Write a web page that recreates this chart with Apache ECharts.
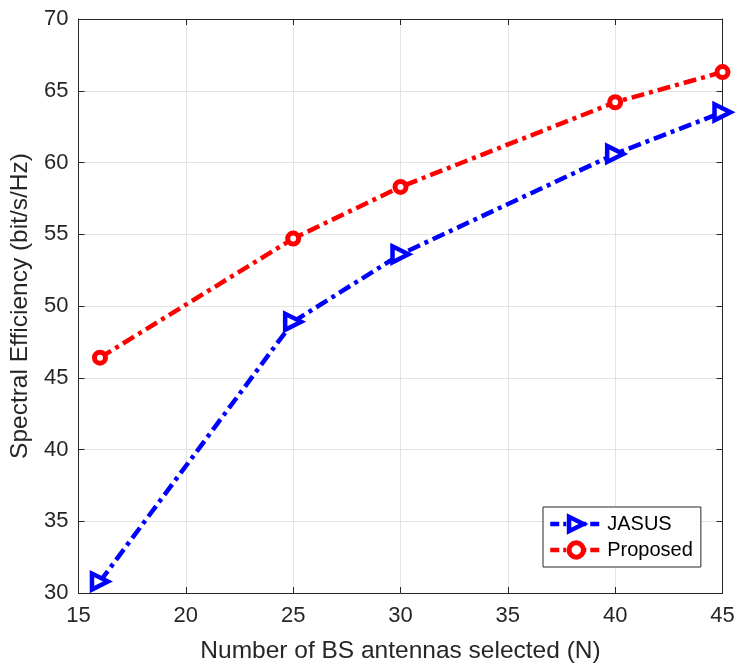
<!DOCTYPE html>
<html>
<head>
<meta charset="utf-8">
<script src="https://cdn.jsdelivr.net/npm/echarts@6/dist/echarts.min.js"></script>
<style>
  html, body { margin: 0; padding: 0; background: #fff; }
  #chart { width: 740px; height: 671px; }
</style>
</head>
<body>
<div id="chart"></div>
<script>
// Number of selected BS antennas
const antennas = [16, 25, 30, 40, 45];
// Spectral efficiency (bit/s/Hz)
const jasus = [30.8, 48.9, 53.6, 60.6, 63.5];
const proposed = [46.4, 54.7, 58.3, 64.2, 66.3];

const xTicks = { min: 15, max: 45, interval: 5 };
const yTicks = { min: 30, max: 70, interval: 5 };

const FONT = '"Liberation Sans", Arial, sans-serif';
const AXIS_COLOR = '#262626';
const dashDot = [13, 5, 4, 5];

const chart = echarts.init(document.getElementById('chart'), null, { renderer: 'canvas' });

const pairs = (xs, ys) => xs.map((x, i) => [x, ys[i]]);

const baseAxis = {
  axisLine: { show: true, onZero: false, lineStyle: { color: AXIS_COLOR, width: 1 } },
  axisTick: { show: true, inside: true, length: 6, lineStyle: { color: AXIS_COLOR } },
  axisLabel: { color: AXIS_COLOR, fontFamily: FONT, fontSize: 22 },
  splitLine: { show: true, lineStyle: { color: '#e3e3e3', width: 1 } }
};

chart.setOption({
  animation: false,
  backgroundColor: '#fff',
  grid: { left: 78.5, right: 17.5, top: 19, bottom: 78, containLabel: false },
  legend: {
    orient: 'vertical',
    left: 543,
    top: 507,
    padding: [7, 8, 7, 5],
    itemGap: 6,
    itemWidth: 52,
    itemHeight: 18,
    backgroundColor: '#fff',
    borderColor: AXIS_COLOR,
    borderWidth: 1,
    borderRadius: 0,
    textStyle: { color: '#000', fontFamily: FONT, fontSize: 20, padding: [0, 0, 0, 0] },
    data: [
      {
        name: 'JASUS',
        lineStyle: { color: '#0000ff', width: 4.5, type: [9, 4, 3, 4] },
        itemStyle: { color: '#fff', borderColor: '#0000ff', borderWidth: 4.5 }
      },
      {
        name: 'Proposed',
        lineStyle: { color: '#ff0000', width: 4.5, type: [9, 4, 3, 4] },
        itemStyle: { color: '#fff', borderColor: '#ff0000', borderWidth: 5 }
      }
    ]
  },
  xAxis: [
    Object.assign({}, baseAxis, {
      type: 'value', position: 'bottom',
      min: xTicks.min, max: xTicks.max, interval: xTicks.interval,
      name: 'Number of BS antennas selected (N)',
      nameLocation: 'middle', nameGap: 46,
      nameTextStyle: { color: AXIS_COLOR, fontFamily: FONT, fontSize: 24.5 },
      axisLabel: Object.assign({}, baseAxis.axisLabel, { margin: 12 })
    }),
    {
      type: 'value', position: 'top',
      min: xTicks.min, max: xTicks.max, interval: xTicks.interval,
      axisLine: baseAxis.axisLine, axisTick: baseAxis.axisTick,
      axisLabel: { show: false }, splitLine: { show: false }
    }
  ],
  yAxis: [
    Object.assign({}, baseAxis, {
      type: 'value', position: 'left',
      min: yTicks.min, max: yTicks.max, interval: yTicks.interval,
      name: 'Spectral Efficiency (bit/s/Hz)',
      nameLocation: 'middle', nameGap: 45, nameRotate: 90,
      nameTextStyle: { color: AXIS_COLOR, fontFamily: FONT, fontSize: 24.5 },
      axisLabel: Object.assign({}, baseAxis.axisLabel, { margin: 10 })
    }),
    {
      type: 'value', position: 'right',
      min: yTicks.min, max: yTicks.max, interval: yTicks.interval,
      axisLine: baseAxis.axisLine, axisTick: baseAxis.axisTick,
      axisLabel: { show: false }, splitLine: { show: false }
    }
  ],
  series: [
    {
      name: 'JASUS',
      type: 'line',
      data: pairs(antennas, jasus),
      symbol: 'triangle',
      symbolRotate: -90,
      symbolSize: 16,
      showAllSymbol: true,
      lineStyle: { color: '#0000ff', width: 4.5, type: dashDot },
      itemStyle: { color: '#fff', borderColor: '#0000ff', borderWidth: 4.5 },
      color: '#0000ff',
      z: 3
    },
    {
      name: 'Proposed',
      type: 'line',
      data: pairs(antennas, proposed),
      symbol: 'circle',
      symbolSize: 11,
      showAllSymbol: true,
      lineStyle: { color: '#ff0000', width: 4.5, type: dashDot },
      itemStyle: { color: '#fff', borderColor: '#ff0000', borderWidth: 5 },
      color: '#ff0000',
      z: 3
    }
  ]
});
</script>
</body>
</html>
